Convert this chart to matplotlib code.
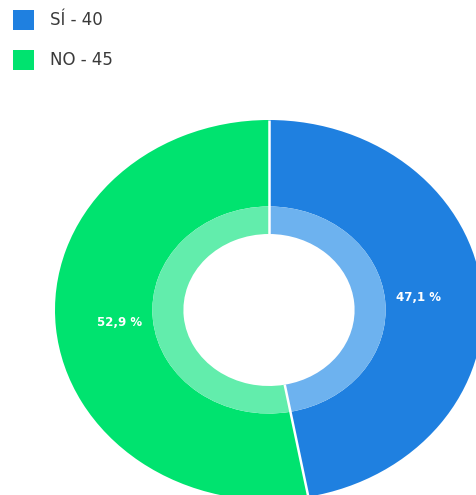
import numpy as np
import matplotlib.pyplot as plt
from matplotlib.patches import Rectangle

categories = ['SÍ', 'NO']
values = [40, 45]
colors = ['#1f80e0', '#00e36f']
light_colors = ['#6db2ef', '#62edac']

fig = plt.figure(figsize=(4.76, 4.95), dpi=100)

# donut is slightly squashed vertically, so the axes is not square
ax = fig.add_axes([55 / 476, -5 / 495, 428 / 476, 380 / 495])

def fmt_pct(p):
    return f"{p:.1f} %".replace('.', ',')

wedges, texts, autotexts = ax.pie(
    values, colors=colors, startangle=90, counterclock=False,
    radius=1.0, wedgeprops=dict(width=0.455, linewidth=0),
    autopct=fmt_pct, pctdistance=0.7,
    textprops=dict(color='white', fontsize=8.5, fontweight='bold'))

ax.pie(values, colors=light_colors, startangle=90, counterclock=False,
       radius=0.545, wedgeprops=dict(width=0.145, linewidth=0))

# white separators between slices (radial only)
for w in wedges:
    ang = np.deg2rad(w.theta1)
    ax.plot([0.40 * np.cos(ang), 1.0 * np.cos(ang)],
            [0.40 * np.sin(ang), 1.0 * np.sin(ang)],
            color='white', lw=1.8, solid_capstyle='butt', zorder=3)

ax.set_aspect('auto')
ax.set_xlim(-1, 1)
ax.set_ylim(-1, 1)
ax.axis('off')

# legend
for i, (cat, val) in enumerate(zip(categories, values)):
    y_top = 10 + i * 40
    fig.patches.append(Rectangle((13 / 476, 1 - (y_top + 20) / 495), 21 / 476, 20 / 495,
                                 transform=fig.transFigure, facecolor=colors[i],
                                 edgecolor='none'))
    fig.text(50 / 476, 1 - (y_top + 10) / 495, f"{cat} - {val}", fontsize=12,
             color='#3a3a3a', va='center', ha='left')

fig.savefig('out.png', dpi=100, facecolor='white')
